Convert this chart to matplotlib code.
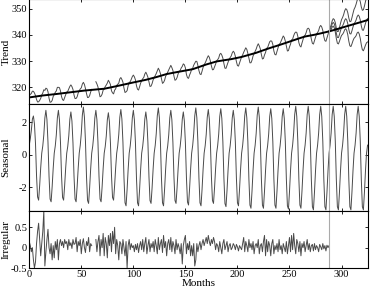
import numpy as np
import matplotlib
matplotlib.use("Agg")
import matplotlib.pyplot as plt

plt.rcParams['font.family'] = ['Liberation Serif', 'DejaVu Serif']
plt.rcParams['axes.unicode_minus'] = False

# ---- data (monthly, month 0 .. 325) ----
trend = [
    316.20, 316.26, 316.32, 316.38, 316.43, 316.49, 316.55, 316.61, 316.67, 316.73, 316.78, 316.84,
    316.90, 316.94, 316.98, 317.03, 317.07, 317.11, 317.15, 317.19, 317.23, 317.28, 317.32, 317.36,
    317.40, 317.45, 317.50, 317.55, 317.60, 317.65, 317.70, 317.75, 317.80, 317.85, 317.90, 317.95,
    318.00, 318.05, 318.10, 318.15, 318.20, 318.25, 318.30, 318.35, 318.40, 318.45, 318.50, 318.55,
    318.60, 318.64, 318.68, 318.73, 318.77, 318.81, 318.85, 318.89, 318.93, 318.98, 319.02, 319.06,
    319.10, 319.13, 319.17, 319.20, 319.23, 319.27, 319.30, 319.33, 319.37, 319.40, 319.43, 319.47,
    319.50, 319.58, 319.67, 319.75, 319.83, 319.92, 320.00, 320.08, 320.17, 320.25, 320.33, 320.42,
    320.50, 320.59, 320.68, 320.78, 320.87, 320.96, 321.05, 321.14, 321.23, 321.33, 321.42, 321.51,
    321.60, 321.68, 321.75, 321.83, 321.90, 321.98, 322.05, 322.13, 322.20, 322.28, 322.35, 322.43,
    322.50, 322.60, 322.70, 322.80, 322.90, 323.00, 323.10, 323.20, 323.30, 323.40, 323.50, 323.60,
    323.70, 323.82, 323.93, 324.05, 324.17, 324.28, 324.40, 324.52, 324.63, 324.75, 324.87, 324.98,
    325.10, 325.18, 325.25, 325.33, 325.40, 325.48, 325.55, 325.63, 325.70, 325.78, 325.85, 325.93,
    326.00, 326.07, 326.13, 326.20, 326.27, 326.33, 326.40, 326.47, 326.53, 326.60, 326.67, 326.73,
    326.80, 326.94, 327.08, 327.23, 327.37, 327.51, 327.65, 327.79, 327.93, 328.08, 328.22, 328.36,
    328.50, 328.62, 328.73, 328.85, 328.97, 329.08, 329.20, 329.32, 329.43, 329.55, 329.67, 329.78,
    329.90, 329.96, 330.02, 330.08, 330.13, 330.19, 330.25, 330.31, 330.37, 330.43, 330.48, 330.54,
    330.60, 330.68, 330.77, 330.85, 330.93, 331.02, 331.10, 331.18, 331.27, 331.35, 331.43, 331.52,
    331.60, 331.71, 331.82, 331.93, 332.03, 332.14, 332.25, 332.36, 332.47, 332.58, 332.68, 332.79,
    332.90, 333.04, 333.18, 333.33, 333.47, 333.61, 333.75, 333.89, 334.03, 334.18, 334.32, 334.46,
    334.60, 334.73, 334.85, 334.98, 335.10, 335.23, 335.35, 335.48, 335.60, 335.73, 335.85, 335.98,
    336.10, 336.23, 336.37, 336.50, 336.63, 336.77, 336.90, 337.03, 337.17, 337.30, 337.43, 337.57,
    337.70, 337.83, 337.97, 338.10, 338.23, 338.37, 338.50, 338.63, 338.77, 338.90, 339.03, 339.17,
    339.30, 339.38, 339.45, 339.53, 339.60, 339.68, 339.75, 339.83, 339.90, 339.98, 340.05, 340.13,
    340.20, 340.29, 340.38, 340.48, 340.57, 340.66, 340.75, 340.84, 340.93, 341.03, 341.12, 341.21,
    341.30, 341.42, 341.53, 341.65, 341.77, 341.88, 342.00, 342.12, 342.23, 342.35, 342.47, 342.58,
    342.70, 342.82, 342.93, 343.05, 343.17, 343.28, 343.40, 343.52, 343.63, 343.75, 343.87, 343.98,
    344.10, 344.22, 344.33, 344.45, 344.57, 344.68, 344.80, 344.92, 345.03, 345.15, 345.27, 345.38,
    345.50, 345.62,
]

seasonal = [
    0.60, 1.00, 1.50, 2.20, 2.40, 1.90, 0.70, -1.30, -2.60, -2.80, -1.90, -0.80,
    0.10, 0.55, 1.24, 2.28, 2.75, 2.17, 0.77, -1.31, -2.73, -2.90, -1.97, -0.84,
    0.10, 0.55, 1.24, 2.28, 2.75, 2.17, 0.77, -1.26, -2.63, -2.80, -1.90, -0.81,
    0.10, 0.53, 1.19, 2.20, 2.65, 2.09, 0.74, -1.31, -2.73, -2.90, -1.97, -0.84,
    0.10, 0.59, 1.33, 2.45, 2.95, 2.33, 0.83, -1.35, -2.82, -3.00, -2.04, -0.87,
    0.10, 0.55, 1.24, 2.28, 2.75, 2.17, 0.77, -1.31, -2.73, -2.90, -1.97, -0.84,
    0.10, 0.52, 1.17, 2.16, 2.60, 2.05, 0.73, -1.26, -2.63, -2.80, -1.90, -0.81,
    0.10, 0.56, 1.26, 2.32, 2.80, 2.21, 0.78, -1.42, -2.96, -3.15, -2.14, -0.91,
    0.10, 0.55, 1.24, 2.28, 2.75, 2.17, 0.77, -1.42, -2.96, -3.15, -2.14, -0.91,
    0.10, 0.53, 1.19, 2.20, 2.65, 2.09, 0.74, -1.35, -2.82, -3.00, -2.04, -0.87,
    0.10, 0.58, 1.31, 2.41, 2.90, 2.29, 0.81, -1.42, -2.96, -3.15, -2.14, -0.91,
    0.10, 0.55, 1.24, 2.28, 2.75, 2.17, 0.77, -1.35, -2.82, -3.00, -2.04, -0.87,
    0.10, 0.53, 1.19, 2.20, 2.65, 2.09, 0.74, -1.40, -2.91, -3.10, -2.11, -0.90,
    0.10, 0.58, 1.31, 2.41, 2.90, 2.29, 0.81, -1.42, -2.96, -3.15, -2.14, -0.91,
    0.10, 0.56, 1.26, 2.32, 2.80, 2.21, 0.78, -1.35, -2.82, -3.00, -2.04, -0.87,
    0.10, 0.57, 1.28, 2.37, 2.85, 2.25, 0.80, -1.44, -3.01, -3.20, -2.18, -0.93,
    0.10, 0.55, 1.24, 2.28, 2.75, 2.17, 0.77, -1.42, -2.96, -3.15, -2.14, -0.91,
    0.10, 0.58, 1.31, 2.41, 2.90, 2.29, 0.81, -1.49, -3.10, -3.30, -2.24, -0.96,
    0.10, 0.59, 1.33, 2.45, 2.95, 2.33, 0.83, -1.49, -3.10, -3.30, -2.24, -0.96,
    0.10, 0.57, 1.28, 2.37, 2.85, 2.25, 0.80, -1.49, -3.10, -3.30, -2.24, -0.96,
    0.10, 0.57, 1.28, 2.37, 2.85, 2.25, 0.80, -1.51, -3.15, -3.35, -2.28, -0.97,
    0.10, 0.60, 1.35, 2.49, 3.00, 2.37, 0.84, -1.49, -3.10, -3.30, -2.24, -0.96,
    0.10, 0.60, 1.35, 2.49, 3.00, 2.37, 0.84, -1.53, -3.20, -3.40, -2.31, -0.99,
    0.10, 0.60, 1.35, 2.49, 3.00, 2.37, 0.84, -1.53, -3.20, -3.40, -2.31, -0.99,
    0.10, 0.60, 1.35, 2.49, 3.00, 2.37, 0.84, -1.53, -3.20, -3.40, -2.31, -0.99,
    0.10, 0.60, 1.35, 2.49, 3.00, 2.37, 0.84, -1.53, -3.20, -3.40, -2.31, -0.99,
    0.10, 0.60, 1.35, 2.49, 3.00, 2.37, 0.84, -1.53, -3.20, -3.40, -2.31, -0.99,
    0.10, 0.60,
]

nan = float('nan')
irregular = [
    0.15, 0.05, -0.10, 0.00, -0.30, -0.50, -0.35, 0.10, 0.40, 0.60, 0.20, -0.20,
    0.10, 0.40, 0.90, -0.45, -0.10, 0.20, 0.45, 0.00, -0.15, 0.10, -0.30, 0.05,
    -0.25, 0.15, -0.05, 0.20, -0.30, 0.10, 0.20, 0.05, 0.15, 0.00, 0.20, 0.10,
    0.15, -0.05, 0.20, 0.05, 0.12, -0.02, 0.20, 0.08, 0.10, 0.25, -0.10, 0.15,
    0.05, 0.20, -0.15, 0.10, 0.22, 0.00, -0.12, 0.15, 0.05, 0.25, -0.10, 0.10,
    0.05, nan, nan, nan, 0.20, -0.10, 0.15, 0.30, -0.20, 0.20, 0.00, 0.35,
    -0.20, 0.25, 0.10, -0.25, 0.30, 0.05, 0.35, -0.10, 0.40, 0.10, 0.50, -0.15,
    0.20, 0.05, -0.30, 0.15, 0.10, -0.15, 0.20, 0.00, -0.20, 0.15, -0.50, 0.05,
    0.20, -0.05, 0.10, 0.00, 0.05, -0.10, 0.08, -0.05, 0.10, -0.12, 0.05, 0.15,
    -0.05, 0.20, -0.10, 0.10, 0.25, -0.15, 0.05, 0.20, -0.10, 0.10, 0.00, 0.15,
    -0.10, 0.20, 0.05, -0.15, 0.25, -0.05, 0.10, 0.20, -0.12, 0.30, 0.00, 0.15,
    -0.20, 0.10, 0.20, -0.05, 0.25, -0.10, 0.15, 0.05, -0.15, 0.20, -0.05, 0.10,
    0.00, -0.15, 0.10, -0.40, 0.05, 0.20, 0.30, -0.15, 0.10, -0.05, 0.15, -0.20,
    0.05, -0.20, 0.10, -0.45, -0.30, 0.10, -0.10, 0.05, 0.15, -0.05, 0.10, 0.20,
    0.05, 0.15, 0.25, 0.10, 0.30, 0.15, 0.05, 0.20, 0.10, 0.25, 0.15, -0.05,
    0.10, 0.05, -0.10, 0.15, 0.00, -0.15, 0.10, 0.20, -0.05, 0.05, 0.15, -0.10,
    0.05, 0.10, -0.05, 0.00, 0.10, 0.05, -0.05, 0.08, 0.02, -0.08, 0.05, 0.00,
    -0.05, 0.10, 0.25, -0.10, 0.15, 0.05, -0.10, 0.20, 0.00, 0.10, -0.05, 0.15,
    -0.15, 0.05, 0.10, 0.00, 0.20, -0.15, 0.05, 0.10, -0.10, 0.15, 0.30, -0.20,
    0.20, -0.10, 0.15, 0.05, -0.20, 0.10, 0.20, -0.15, 0.05, -0.05, 0.10, -0.10,
    0.20, -0.05, 0.05, -0.15, 0.10, 0.00, -0.10, 0.15, -0.15, 0.05, 0.25, -0.10,
    0.30, -0.05, 0.35, 0.05, -0.15, 0.20, 0.10, -0.10, 0.15, -0.20, 0.10, 0.00,
    0.15, -0.10, 0.05, 0.20, -0.05, 0.10, -0.10, 0.05, 0.08, -0.08, 0.10, -0.05,
    0.05, 0.00, -0.10, 0.08, 0.02, -0.05, 0.10, -0.03, 0.05, -0.08, 0.06, 0.00,
    0.05,
]

# half-width of forecast band, months 288 .. 325
band = [0.0, 0.6, 0.9, 1.2, 1.4, 1.6, 1.8, 2.0, 2.2, 2.4, 2.6, 2.8, 3.0,
        3.2, 3.4, 3.6, 3.8, 4.0, 4.2, 4.4, 4.6, 4.8, 5.0, 5.2, 5.5, 5.7,
        6.0, 6.2, 6.5, 6.7, 7.0, 7.2, 7.5, 7.8, 8.0, 8.3, 8.6, 8.9]

n_obs = 288  # last observed month

trend = np.array(trend)
seasonal = np.array(seasonal)
irregular = np.array(irregular)
band = np.array(band)
months = np.arange(len(trend))
obs_m = np.arange(len(irregular))
observed = trend[:len(irregular)] + seasonal[:len(irregular)] + irregular
fc_m = months[n_obs:][:len(band)]
fc_mid = (trend[n_obs:] + seasonal[n_obs:])[:len(band)]

fig = plt.figure(figsize=(3.75, 2.91), dpi=100)
L, W = 0.078, 0.903
ax1 = fig.add_axes([L, 0.6426, W, 0.3604])
ax2 = fig.add_axes([L, 0.2749, W, 0.3677])
ax3 = fig.add_axes([L, 0.0790, W, 0.1959])

thin = dict(color='#4a4a4a', lw=0.7)
vline = dict(color='#aaaaaa', lw=0.8)

ax1.plot(obs_m, observed, **thin)
ax1.plot(fc_m, fc_mid, **thin)
ax1.plot(fc_m, fc_mid + band, **thin)
ax1.plot(fc_m, fc_mid - band, **thin)
ax1.plot(months, trend, color='black', lw=1.4)
ax1.axvline(n_obs, **vline)
ax1.set_ylim(313.7, 353.6)
ax1.set_yticks([320, 330, 340, 350])
ax1.set_ylabel('Trend')

ax2.plot(months, seasonal, **thin)
ax2.axvline(n_obs, **vline)
ax2.set_ylim(-3.47, 3.14)
ax2.set_yticks([-2, 0, 2])
ax2.set_ylabel('Seasonal')

ax3.plot(obs_m, irregular, **thin)
ax3.axvline(n_obs, **vline)
ax3.set_ylim(-0.5, 0.9)
ax3.set_yticks([-0.5, 0, 0.5])
ax3.set_yticklabels(['-0.5', '0', '0.5'])
ax3.set_ylabel('Irregular')
ax3.set_xlabel('Months', fontsize=8, labelpad=0)

for ax in (ax1, ax2, ax3):
    ax.set_xlim(0, 325.3)
    ax.set_xticks([0, 50, 100, 150, 200, 250, 300])
    ax.tick_params(direction='in', top=True, right=True, length=2.5,
                   width=0.6, labelsize=7.5, pad=1.5)
    for s in ax.spines.values():
        s.set_linewidth(0.8)
    ax.yaxis.set_label_coords(-0.055, 0.5)
    ax.yaxis.label.set_fontsize(8)
for ax in (ax1, ax2):
    ax.tick_params(labelbottom=False)

fig.savefig('out.png', dpi=100)
